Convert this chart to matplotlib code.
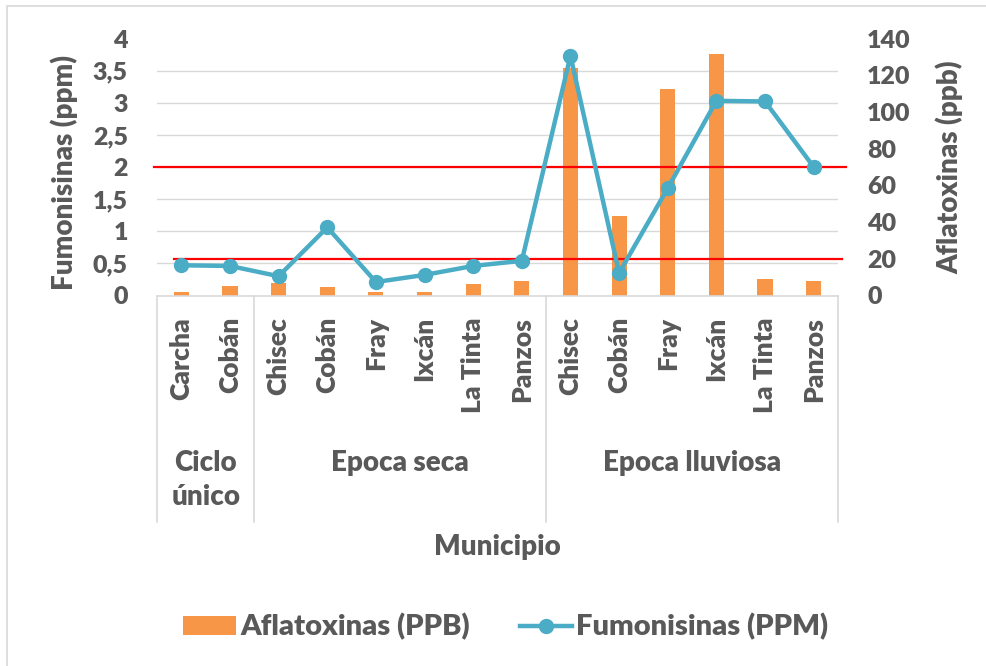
"""Aflatoxinas y fumonisinas por municipio - dual axis bar + line chart."""
import matplotlib
matplotlib.use("Agg")
import matplotlib.pyplot as plt
from matplotlib.lines import Line2D
from matplotlib.patches import Patch, Rectangle
from matplotlib.ticker import FuncFormatter, MultipleLocator
from matplotlib.transforms import blended_transform_factory

# Data
municipios = ["Carcha", "Cobán",
              "Chisec", "Cobán", "Fray", "Ixcán", "La Tinta", "Panzos",
              "Chisec", "Cobán", "Fray", "Ixcán", "La Tinta", "Panzos"]
grupos = ["Ciclo\núnico", "Epoca seca", "Epoca lluviosa"]
grupo_tamanos = [2, 6, 6]

aflatoxinas_ppb = [1.9, 5.3, 7.0, 4.6, 1.9, 1.9, 6.4, 7.9,
                   124.0, 43.1, 112.3, 131.5, 9.0, 7.9]
fumonisinas_ppm = [0.47, 0.46, 0.30, 1.06, 0.21, 0.32, 0.46, 0.54,
                   3.73, 0.35, 1.67, 3.03, 3.02, 2.00]

limite_fumonisinas = 2      # ppm
limite_aflatoxinas = 20     # ppb

TEXT = "#595959"
GRID = "#D9D9D9"
BAR = "#F79646"
LINE = "#4BACC6"
RED = "#FF0000"
FONT = "Lato"
W = "heavy"


def main():
    plt.rcParams["font.family"] = [FONT, "DejaVu Sans"]
    plt.rcParams["font.weight"] = W

    fig = plt.figure(figsize=(9.86, 6.66), dpi=100)
    fig.patch.set_facecolor("white")
    # chart border (only top/left visible in reference)
    fig.patches.append(Rectangle((7 / 986, -0.05), 1.05, 1 - 6 / 666 + 0.05,
                                 transform=fig.transFigure, fill=False,
                                 edgecolor=GRID, linewidth=1.2))

    ax = fig.add_axes([157 / 986, (666 - 295.5) / 666, 681 / 986, 257 / 666])
    ax2 = ax.twinx()
    ax.set_zorder(ax2.get_zorder() + 1)
    ax.patch.set_visible(False)

    x = list(range(len(municipios)))

    # Bars (right axis, ppb)
    ax2.bar(x, aflatoxinas_ppb, width=0.31, color=BAR, zorder=2)
    ax2.set_ylim(0, 140)
    ax2.yaxis.set_major_locator(MultipleLocator(20))
    ax2.yaxis.set_minor_locator(MultipleLocator(17.5))
    ax2.grid(True, which="minor", axis="y", color=GRID, linewidth=1.0)
    ax2.set_axisbelow(True)
    ax2.tick_params(axis="y", which="both", length=0, pad=21,
                    labelsize=18, labelcolor=TEXT)
    ax2.axhline(limite_aflatoxinas, xmin=0.025, xmax=1.006, color=RED,
                linewidth=1.6, clip_on=False, zorder=3)
    ax2.set_ylabel("Aflatoxinas (ppb)", fontsize=20, color=TEXT,
                   fontweight=W, rotation=90)
    ax2.yaxis.set_label_coords(1.144, 0.498)

    # Line (left axis, ppm)
    ax.axhline(limite_fumonisinas, xmin=-0.0044, xmax=1.0117, color=RED,
               linewidth=1.6, clip_on=False, zorder=1.5)
    ax.plot(x, fumonisinas_ppm, color=LINE, linewidth=3.2, marker="o",
            markersize=10, zorder=3)
    ax.set_ylim(0, 4)
    ax.set_xlim(-0.5, len(municipios) - 0.5)
    ax.yaxis.set_major_locator(MultipleLocator(0.5))
    ax.yaxis.set_major_formatter(
        FuncFormatter(lambda v, _: f"{v:g}".replace(".", ",")))
    ax.tick_params(axis="y", length=0, pad=21, labelsize=18, labelcolor=TEXT)
    ax.set_xticks([])
    ax2.set_xticks([])
    ax.set_ylabel("Fumonisinas (ppm)", fontsize=20, color=TEXT,
                  fontweight=W)
    ax.yaxis.set_label_coords(-0.116, 0.477)

    for a in (ax, ax2):
        for side in ("top", "left", "right"):
            a.spines[side].set_visible(False)
    ax.spines["bottom"].set_visible(False)
    ax2.spines["bottom"].set_color(GRID)
    ax2.spines["bottom"].set_linewidth(1.2)

    # Multi-level category axis
    trans = blended_transform_factory(ax.transData, ax.transAxes)
    for xi, name in zip(x, municipios):
        ax.text(xi, -0.084, name, transform=trans, rotation=90, ha="center",
                va="top", fontsize=19, color=TEXT, fontweight=W)

    start = -0.5
    ax.plot([start, start], [0, -0.881], transform=trans, color=GRID,
            linewidth=1.2, clip_on=False)
    for g, n in zip(grupos, grupo_tamanos):
        end = start + n
        ax.plot([end, end], [0, -0.881], transform=trans, color=GRID,
                linewidth=1.2, clip_on=False)
        ax.text((start + end) / 2, -0.60, g, transform=trans, ha="center",
                va="top", fontsize=20, color=TEXT, fontweight=W,
                linespacing=1.4)
        start = end

    fig.text(497 / 986, 1 - 547 / 666, "Municipio", ha="center", va="center",
             fontsize=20, color=TEXT, fontweight=W)

    handles = [Patch(facecolor=BAR, edgecolor="none"),
               Line2D([], [], color=LINE, linewidth=3.2, marker="o",
                      markersize=10)]
    fig.legend(handles, ["Aflatoxinas (PPB)", "Fumonisinas (PPM)"],
               loc="center", bbox_to_anchor=(506 / 986, 1 - 627 / 666),
               ncol=2, frameon=False, labelcolor=TEXT,
               prop={"weight": W, "size": 21},
               handlelength=1.8, handleheight=0.6, handletextpad=0.15,
               columnspacing=1.7)

    fig.savefig("out.png", dpi=100)


if __name__ == "__main__":
    main()
